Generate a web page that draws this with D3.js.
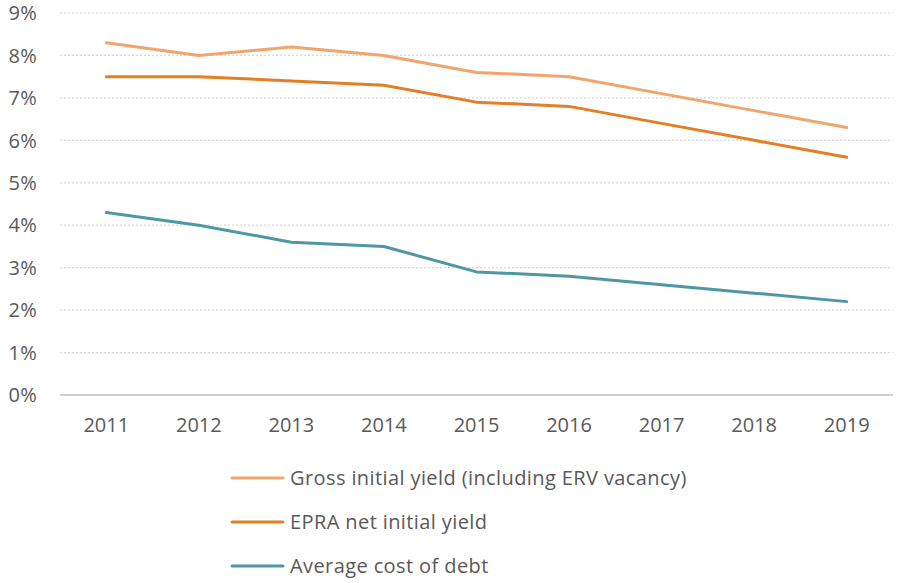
<!DOCTYPE html>
<html>
<head>
<meta charset="utf-8">
<script src="https://cdn.jsdelivr.net/npm/d3@7"></script>
<style>
  body { margin:0; background:#fff; }
  svg text { font-family: "Open Sans", sans-serif; fill:#595959; }
</style>
</head>
<body>
<div id="chart"></div>
<script>
var years = ['2011','2012','2013','2014','2015','2016','2017','2018','2019'];
var grossYield = [8.3, 8.0, 8.2, 8.0, 7.6, 7.5, 7.1, 6.7, 6.3];
var epraYield = [7.5, 7.5, 7.4, 7.3, 6.9, 6.8, 6.4, 6.0, 5.6];
var costOfDebt = [4.3, 4.0, 3.6, 3.5, 2.9, 2.8, 2.6, 2.4, 2.2];
var yTicks = [0,1,2,3,4,5,6,7,8,9];
var seriesNames = ['Gross initial yield (including ERV vacancy)','EPRA net initial yield','Average cost of debt'];
var seriesColors = ['#F0A56B','#E47F25','#4F97A4'];

var W = 897, H = 583;
var plot = {left:60, right:893, top:13, bottom:395};

var svg = d3.select('#chart').append('svg')
    .attr('width', W)
    .attr('height', H);

var x = d3.scaleBand()
    .domain(years)
    .range([plot.left, plot.right]);

var y = d3.scaleLinear()
    .domain([0, 9])
    .range([plot.bottom, plot.top]);

// gridlines
svg.append('g').selectAll('line')
    .data(yTicks.filter(function(d) { return d > 0; }))
    .enter().append('line')
    .attr('x1', plot.left).attr('x2', plot.right)
    .attr('y1', function(d) { return y(d); })
    .attr('y2', function(d) { return y(d); })
    .attr('stroke', '#d9d9d9')
    .attr('stroke-width', 1.2)
    .attr('stroke-dasharray', '2,2');

// zero line
svg.append('line')
    .attr('x1', plot.left).attr('x2', plot.right)
    .attr('y1', y(0)).attr('y2', y(0))
    .attr('stroke', '#bfbfbf')
    .attr('stroke-width', 1.5);

// y labels
svg.append('g').selectAll('text')
    .data(yTicks)
    .enter().append('text')
    .attr('x', 37)
    .attr('y', function(d) { return y(d); })
    .attr('dy', '0.36em')
    .attr('text-anchor', 'end')
    .style('font-size', '20px')
    .style('letter-spacing', '0.3px')
    .text(function(d) { return d + '%'; });

// x labels
svg.append('g').selectAll('text')
    .data(years)
    .enter().append('text')
    .attr('x', function(d) { return x(d) + x.bandwidth() / 2; })
    .attr('y', 432)
    .attr('text-anchor', 'middle')
    .style('font-size', '20px')
    .text(function(d) { return d; });

var line = d3.line()
    .x(function(d, i) { return x(years[i]) + x.bandwidth() / 2; })
    .y(function(d) { return y(d); });

var allSeries = [grossYield, epraYield, costOfDebt];
allSeries.forEach(function(s, i) {
    svg.append('path')
        .datum(s)
        .attr('fill', 'none')
        .attr('stroke', seriesColors[i])
        .attr('stroke-width', 3)
        .attr('stroke-linejoin', 'round')
        .attr('stroke-linecap', 'round')
        .attr('d', line);
});

// legend
var legend = svg.append('g').attr('transform', 'translate(232,478)');
seriesNames.forEach(function(name, i) {
    var g = legend.append('g').attr('transform', 'translate(0,' + i * 44 + ')');
    g.append('line')
        .attr('x1', 0).attr('x2', 51)
        .attr('y1', 0).attr('y2', 0)
        .attr('stroke', seriesColors[i])
        .attr('stroke-width', 3)
        .attr('stroke-linecap', 'round');
    g.append('text')
        .attr('x', 58)
        .attr('y', 0)
        .attr('dy', '0.36em')
        .style('font-size', '20px')
        .style('letter-spacing', '0.4px')
        .text(name);
});
</script>
</body>
</html>
